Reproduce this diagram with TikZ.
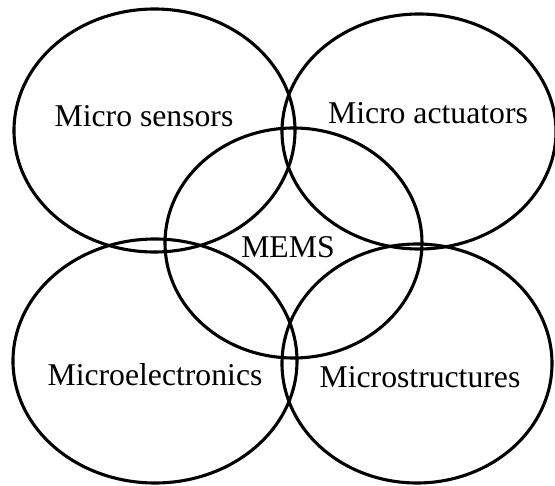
\documentclass[tikz,border=0pt]{standalone}
\usepackage{fontspec}
\setmainfont{Liberation Serif}
\usetikzlibrary{shapes.geometric}
\begin{document}
\begin{tikzpicture}[x=1pt,y=-1pt,
  fieldring/.style={draw=black, line width=3.1pt, ellipse, inner sep=0pt, outer sep=0pt},
  fieldtext/.style={anchor=base, inner sep=0pt, font=\fontsize{31.7}{38}\selectfont}]
\useasboundingbox (0,0) rectangle (555,486);
% the five overlapping fields
\node[fieldring, minimum width=281pt, minimum height=243pt] (sens) at (154.5,130.5) {};
\node[fieldring, minimum width=274pt, minimum height=235pt] (act)  at (419,131.5) {};
\node[fieldring, minimum width=257pt, minimum height=230pt] (mems) at (293.5,243) {};
\node[fieldring, minimum width=284pt, minimum height=244pt] (elec) at (155,361) {};
\node[fieldring, minimum width=270pt, minimum height=239pt] (strc) at (417,363.5) {};
% names of the fields
\node[fieldtext] (tsens) at (144,127) {Micro sensors};
\node[fieldtext] (tact)  at (428,124) {Micro actuators};
\node[fieldtext] (tmems) at (288,258) {MEMS};
\node[fieldtext] (telec) at (155,386) {Microelectronics};
\node[fieldtext] (tstrc) at (420,388) {Microstructures};
\end{tikzpicture}
\end{document}
